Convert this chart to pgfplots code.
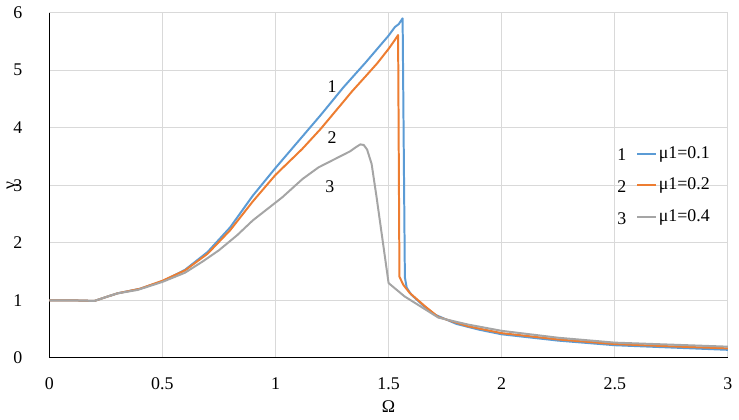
\documentclass[border=0pt]{standalone}
\usepackage{pgfplots}
\pgfplotsset{compat=1.18}
\usepackage{fontspec}
\setmainfont{Liberation Serif}
\newfontfamily\tnr{Liberation Serif}
\definecolor{xblue}{HTML}{5B9BD5}
\definecolor{xorange}{HTML}{ED7D31}
\definecolor{xgray}{HTML}{A5A5A5}
\definecolor{xgrid}{HTML}{D9D9D9}
\begin{document}
\begin{tikzpicture}
\begin{axis}[
    scale only axis, width=342pt, height=174pt,
    xmin=0, xmax=3, ymin=0, ymax=6,
    xtick={0,0.5,...,3}, ytick={0,1,...,6},
    xticklabels={0,0.5,1,1.5,2,2.5,3},
    grid=major, major grid style={xgrid, line width=0.5pt},
    major tick length=0pt,
    axis x line*=bottom, axis y line*=left,
    axis line style={-, black, line width=0.6pt},
    font=\tnr\fontsize{9}{11}\selectfont,
    /pgf/number format/assume math mode=true,
    xticklabel style={yshift=-6.5pt},
    yticklabel style={xshift=-10pt},
    xlabel={Ω}, ylabel={γ},
    xlabel style={at={(axis description cs:0.5,-0.142)}, anchor=center},
    ylabel style={at={(axis description cs:-0.054,0.5)}, anchor=center},
    legend style={draw=none, fill=none, at={(axis description cs:0.864,0.62)}, anchor=north west,
        row sep=6.5pt, inner sep=0pt, font=\tnr\fontsize{9}{11}\selectfont,
        nodes={inner sep=1pt, anchor=west}},
    legend image code/.code={\draw[#1, line width=1pt] (0pt,0pt) -- (9.5pt,0pt);},
    legend cell align=left,
    line join=round,
]
\addplot[xblue, line width=1pt, no marks] coordinates {
(0,1) (0.1,1) (0.2,0.99) (0.3,1.12) (0.4,1.2) (0.5,1.33) (0.6,1.53) (0.7,1.84)
(0.8,2.27) (0.9,2.82) (1.0,3.3) (1.1,3.76) (1.2,4.22) (1.3,4.7) (1.4,5.14)
(1.5,5.6) (1.513,5.67) (1.528,5.75) (1.545,5.8) (1.562,5.9) (1.572,1.4)
(1.58,1.22) (1.6,1.1) (1.65,0.92) (1.7,0.76) (1.8,0.59) (1.9,0.49) (2.0,0.41)
(2.25,0.3) (2.5,0.22) (2.75,0.18) (3.0,0.14)
};
\addlegendentry{μ1=0.1}
\addplot[xorange, line width=1pt, no marks] coordinates {
(0,1) (0.1,1) (0.2,0.99) (0.3,1.12) (0.4,1.2) (0.5,1.34) (0.6,1.52) (0.7,1.81)
(0.8,2.22) (0.9,2.72) (1.0,3.18) (1.118,3.63) (1.2,3.98) (1.3,4.45) (1.338,4.63)
(1.4,4.9) (1.45,5.12) (1.5,5.37) (1.527,5.52) (1.542,5.61) (1.548,1.41)
(1.565,1.27) (1.593,1.13) (1.66,0.9) (1.72,0.71) (1.85,0.55) (2.0,0.43)
(2.25,0.32) (2.5,0.24) (2.75,0.2) (3.0,0.165)
};
\addlegendentry{μ1=0.2}
\addplot[xgray, line width=1pt, no marks] coordinates {
(0,1) (0.1,1) (0.2,0.99) (0.3,1.12) (0.39,1.18) (0.5,1.32) (0.6,1.48) (0.68,1.68)
(0.75,1.87) (0.83,2.13) (0.9,2.39) (1.03,2.79) (1.12,3.11) (1.19,3.31)
(1.29,3.51) (1.33,3.59) (1.355,3.66) (1.375,3.71) (1.39,3.70) (1.405,3.62) (1.425,3.37)
(1.447,2.79) (1.5,1.3) (1.57,1.07) (1.72,0.70) (1.85,0.58) (2.0,0.47)
(2.25,0.35) (2.5,0.265) (2.75,0.23) (3.0,0.195)
};
\addlegendentry{μ1=0.4}
\node at (axis cs:1.25,4.72) {1};
\node at (axis cs:1.25,3.83) {2};
\node at (axis cs:1.24,2.97) {3};
\node[anchor=center] at (axis description cs:0.8436,0.59) {1};
\node[anchor=center] at (axis description cs:0.8436,0.496) {2};
\node[anchor=center] at (axis description cs:0.8436,0.404) {3};
\path ([xshift=-22.5pt,yshift=-30pt]rel axis cs:0,0) rectangle ([xshift=5pt,yshift=7pt]rel axis cs:1,1);
\end{axis}
\end{tikzpicture}
\end{document}
